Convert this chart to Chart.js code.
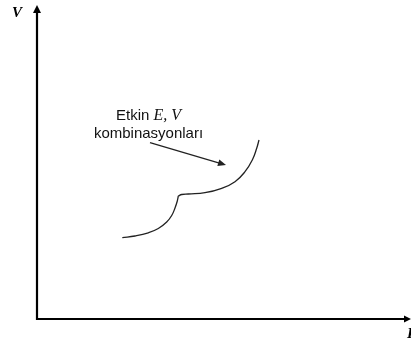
<!DOCTYPE html>
<html><head><meta charset="utf-8">
<script src="https://cdn.jsdelivr.net/npm/chart.js@4/dist/chart.umd.min.js"></script>
<style>html,body{margin:0;padding:0;background:#fff}canvas{display:block}</style>
</head><body>
<canvas id="c" width="411" height="345"></canvas>
<script>
// Curve data (arbitrary units)
const lowerArcX = [85.3, 98, 111.3, 121.3, 129.7, 134.7, 138, 140.3, 141.3];
const lowerArcY = [81.3, 83, 86.2, 90.5, 97, 103.5, 111, 118, 123];
const upperArcX = [141.3, 144.7, 151.3, 168, 184.7, 198, 208, 215.3, 219.7, 222];
const upperArcY = [123, 124.5, 125, 126.3, 130.7, 137.3, 147.3, 159, 170.7, 179];
// Annotation
const noteLine1 = "Etkin ";
const noteLine1Math = "E, V";
const noteLine2 = "kombinasyonları";
const noteAnchor = [111.5, 199, 181.5]; // x, baseline1, baseline2
const noteArrowFrom = [113, 176.3];
const noteArrowTo = [189, 154];
// Axis labels and ranges
const yAxisLabel = "V";
const xAxisLabel = "E";
const xRange = [0, 374];
const yRange = [0, 314];

const toPts = (xs, ys) => xs.map((x, i) => ({x, y: ys[i]}));

function arrowHead(ctx, x1, y1, x2, y2, len, half) {
  const a = Math.atan2(y2 - y1, x2 - x1);
  ctx.beginPath();
  ctx.moveTo(x2, y2);
  ctx.lineTo(x2 - len * Math.cos(a) + half * Math.sin(a), y2 - len * Math.sin(a) - half * Math.cos(a));
  ctx.lineTo(x2 - len * Math.cos(a) - half * Math.sin(a), y2 - len * Math.sin(a) + half * Math.cos(a));
  ctx.closePath();
  ctx.fill();
}

const decor = {
  id: 'decor',
  afterDatasetsDraw(chart) {
    const {ctx, scales: {x, y}} = chart;
    ctx.save();
    ctx.fillStyle = '#000';
    ctx.strokeStyle = '#000';
    // axes
    const x0 = x.getPixelForValue(0), y0 = y.getPixelForValue(0);
    const yTop = y.getPixelForValue(yRange[1]);
    const xEnd = x.getPixelForValue(xRange[1]);
    ctx.lineWidth = 2.2;
    ctx.beginPath();
    ctx.moveTo(x0, y0 + 1.1);
    ctx.lineTo(x0, yTop + 6);
    ctx.moveTo(x0 - 1.1, y0);
    ctx.lineTo(xEnd - 5, y0);
    ctx.stroke();
    arrowHead(ctx, x0, y0, x0, yTop, 8, 4);
    arrowHead(ctx, x0, y0, xEnd, y0, 7, 3.6);
    // axis labels
    ctx.font = 'bold italic 15px "Liberation Serif", "DejaVu Serif", serif';
    ctx.textBaseline = 'alphabetic';
    ctx.textAlign = 'left';
    ctx.fillText(yAxisLabel, x0 - 25, yTop + 12);
    ctx.fillText(xAxisLabel, xEnd - 4, y0 + 19);
    // annotation arrow
    const ax1 = x.getPixelForValue(noteArrowFrom[0]), ay1 = y.getPixelForValue(noteArrowFrom[1]);
    const ax2 = x.getPixelForValue(noteArrowTo[0]), ay2 = y.getPixelForValue(noteArrowTo[1]);
    ctx.lineWidth = 1.2;
    ctx.strokeStyle = '#222';
    ctx.fillStyle = '#222';
    ctx.beginPath();
    ctx.moveTo(ax1, ay1);
    const ang = Math.atan2(ay2 - ay1, ax2 - ax1);
    ctx.lineTo(ax2 - 6 * Math.cos(ang), ay2 - 6 * Math.sin(ang));
    ctx.stroke();
    arrowHead(ctx, ax1, ay1, ax2, ay2, 8, 3.5);
    // annotation text
    const cx = x.getPixelForValue(noteAnchor[0]);
    const b1 = y.getPixelForValue(noteAnchor[1]);
    const b2 = y.getPixelForValue(noteAnchor[2]);
    const sansFont = '15px "Liberation Sans", Arial, sans-serif';
    const mathFont = 'italic 16px "Liberation Serif", "DejaVu Serif", serif';
    ctx.fillStyle = '#111';
    ctx.font = sansFont;
    const w1 = ctx.measureText(noteLine1).width;
    ctx.font = mathFont;
    const w2 = ctx.measureText(noteLine1Math).width;
    const start = cx - (w1 + w2) / 2;
    ctx.font = sansFont;
    ctx.fillText(noteLine1, start, b1);
    ctx.font = mathFont;
    ctx.fillText(noteLine1Math, start + w1, b1);
    ctx.font = sansFont;
    ctx.textAlign = 'center';
    ctx.fillText(noteLine2, cx, b2);
    ctx.restore();
  }
};

new Chart(document.getElementById('c'), {
  type: 'line',
  data: {
    datasets: [
      {data: toPts(lowerArcX, lowerArcY), borderColor: '#222', borderWidth: 1.3, pointRadius: 0, tension: 0.45, fill: false},
      {data: toPts(upperArcX, upperArcY), borderColor: '#222', borderWidth: 1.3, pointRadius: 0, tension: 0.45, fill: false}
    ]
  },
  options: {
    responsive: false,
    devicePixelRatio: 1,
    animation: false,
    layout: {padding: {left: 37, right: 0, top: 5, bottom: 26}},
    plugins: {legend: {display: false}, tooltip: {enabled: false}},
    scales: {
      x: {type: 'linear', min: xRange[0], max: xRange[1], display: false},
      y: {type: 'linear', min: yRange[0], max: yRange[1], display: false}
    }
  },
  plugins: [decor]
});
</script>
</body></html>
